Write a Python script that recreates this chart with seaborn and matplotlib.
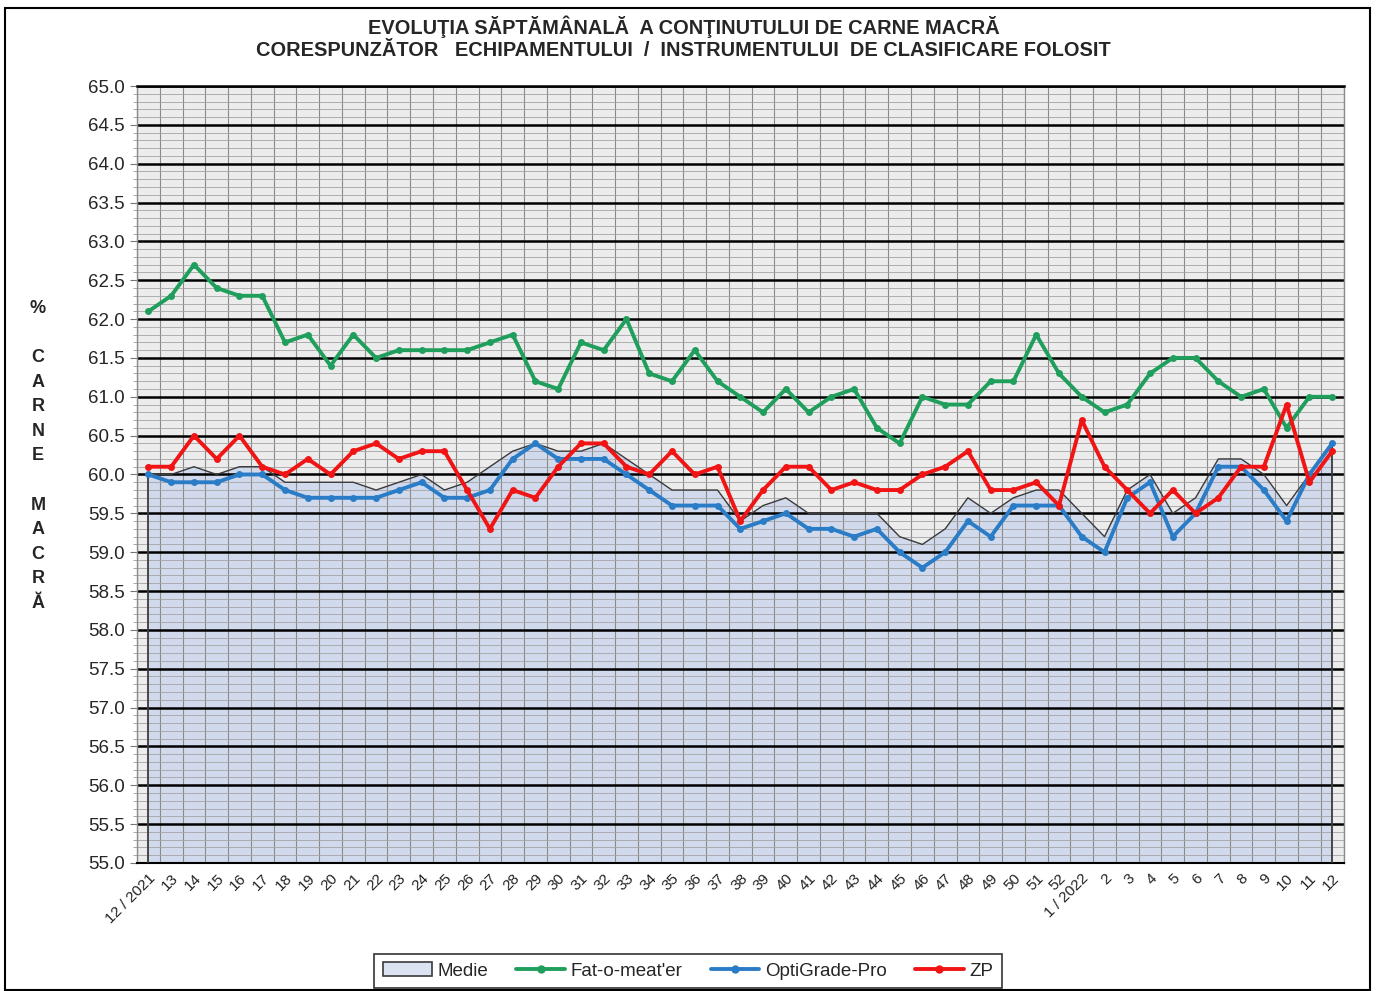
import numpy as np
import pandas as pd
import seaborn as sns
import matplotlib.pyplot as plt
from matplotlib.lines import Line2D
from matplotlib.patches import Patch, Rectangle

# saptamanile: 12/2021 ... 52, apoi 1/2022 ... 12
weeks = ["12 / 2021"] + [str(w) for w in range(13, 53)] + ["1 / 2022"] + [str(w) for w in range(2, 13)]

medie = [60.0, 60.0, 60.1, 60.0, 60.1, 60.1, 59.9, 59.9, 59.9, 59.9, 59.8, 59.9, 60.0, 59.8,
         59.9, 60.1, 60.3, 60.4, 60.3, 60.3, 60.4, 60.2, 60.0, 59.8, 59.8, 59.8, 59.4, 59.6,
         59.7, 59.5, 59.5, 59.5, 59.5, 59.2, 59.1, 59.3, 59.7, 59.5, 59.7, 59.8, 59.8,
         59.5, 59.2, 59.8, 60.0, 59.5, 59.7, 60.2, 60.2, 60.0, 59.6, 60.0, 60.4]

fat_o_meater = [62.1, 62.3, 62.7, 62.4, 62.3, 62.3, 61.7, 61.8, 61.4, 61.8, 61.5, 61.6, 61.6, 61.6,
                61.6, 61.7, 61.8, 61.2, 61.1, 61.7, 61.6, 62.0, 61.3, 61.2, 61.6, 61.2, 61.0, 60.8,
                61.1, 60.8, 61.0, 61.1, 60.6, 60.4, 61.0, 60.9, 60.9, 61.2, 61.2, 61.8, 61.3,
                61.0, 60.8, 60.9, 61.3, 61.5, 61.5, 61.2, 61.0, 61.1, 60.6, 61.0, 61.0]

optigrade_pro = [60.0, 59.9, 59.9, 59.9, 60.0, 60.0, 59.8, 59.7, 59.7, 59.7, 59.7, 59.8, 59.9, 59.7,
                 59.7, 59.8, 60.2, 60.4, 60.2, 60.2, 60.2, 60.0, 59.8, 59.6, 59.6, 59.6, 59.3, 59.4,
                 59.5, 59.3, 59.3, 59.2, 59.3, 59.0, 58.8, 59.0, 59.4, 59.2, 59.6, 59.6, 59.6,
                 59.2, 59.0, 59.7, 59.9, 59.2, 59.5, 60.1, 60.1, 59.8, 59.4, 60.0, 60.4]

zp = [60.1, 60.1, 60.5, 60.2, 60.5, 60.1, 60.0, 60.2, 60.0, 60.3, 60.4, 60.2, 60.3, 60.3,
      59.8, 59.3, 59.8, 59.7, 60.1, 60.4, 60.4, 60.1, 60.0, 60.3, 60.0, 60.1, 59.4, 59.8,
      60.1, 60.1, 59.8, 59.9, 59.8, 59.8, 60.0, 60.1, 60.3, 59.8, 59.8, 59.9, 59.6,
      60.7, 60.1, 59.8, 59.5, 59.8, 59.5, 59.7, 60.1, 60.1, 60.9, 59.9, 60.3]

series_names = ["Fat-o-meat'er", "OptiGrade-Pro", "ZP"]

GREEN = "#1f9e5c"
BLUE = "#2a7cc6"
RED = "#f01414"
FILL = "#d1daed"
EDGE = "#3a3a3a"


def main():
    sns.set_style("white")
    plt.rcParams["font.family"] = ["Liberation Sans", "DejaVu Sans"]

    x = np.arange(len(weeks))
    df = pd.DataFrame({"x": x, series_names[0]: fat_o_meater,
                       series_names[1]: optigrade_pro, series_names[2]: zp})
    long = df.melt(id_vars="x", var_name="aparat", value_name="carne")

    fig = plt.figure(figsize=(13.76, 9.91), dpi=100)
    ax = fig.add_axes([0.0996, 0.1292, 0.8768, 0.784])
    ax.set_facecolor("#ececec")
    ax.set_axisbelow(True)

    # Medie ca arie umpluta, sub liniile de grila
    ax.fill_between(x, medie, 55, facecolor=FILL, edgecolor="none", zorder=0.2)
    ax.plot(x, medie, color=EDGE, lw=1.0, zorder=3)
    ax.vlines([x[0], x[-1]], 55, [medie[0], medie[-1]], color=EDGE, lw=1.3, zorder=3)

    sns.lineplot(data=long, x="x", y="carne", hue="aparat", hue_order=series_names,
                 palette=[GREEN, BLUE, RED], marker="o", markersize=5, markeredgewidth=0,
                 linewidth=2.8, legend=False, ax=ax, zorder=4)

    ax.set_xlim(-0.5, len(weeks) - 0.5)
    ax.set_ylim(55, 65)
    ax.set_xlabel("")
    ax.set_ylabel("")

    ax.set_yticks(np.arange(55, 65.01, 0.5))
    ax.set_yticks(np.arange(55, 65.01, 0.1), minor=True)
    ax.set_yticklabels([f"{v:.1f}" for v in np.arange(55, 65.01, 0.5)], fontsize=13.5)
    ax.set_xticks(x)
    ax.set_xticks(np.arange(-0.5, len(weeks), 1), minor=True)
    ax.set_xticklabels(weeks, rotation=45, ha="right", rotation_mode="anchor", fontsize=11)

    ax.grid(which="major", axis="y", color="black", lw=1.8)
    ax.grid(which="minor", axis="y", color="#a4a4a4", lw=0.6)
    ax.grid(which="minor", axis="x", color="#8a8a8a", lw=0.8)
    ax.grid(which="major", axis="x", visible=False)

    ax.tick_params(axis="x", which="major", length=0, pad=6, colors="#222222")
    ax.tick_params(axis="x", which="minor", length=5, color="#777777")
    ax.tick_params(axis="y", which="major", length=5, color="#777777", left=True, pad=4)
    ax.tick_params(axis="y", which="minor", length=3, color="#999999", left=True)

    for side in ["left", "right"]:
        ax.spines[side].set_color("#8a8a8a")
        ax.spines[side].set_linewidth(1.0)
    ax.spines["bottom"].set_color("black")
    ax.spines["bottom"].set_linewidth(1.5)
    ax.spines["top"].set_color("black")
    ax.spines["top"].set_linewidth(1.8)

    fig.text(0.497, 1 - 27 / 991, "EVOLUŢIA SĂPTĂMÂNALĂ  A CONŢINUTULUI DE CARNE MACRĂ",
             ha="center", va="center", fontsize=14.4, fontweight="bold")
    fig.text(0.497, 1 - 50 / 991, "CORESPUNZĂTOR   ECHIPAMENTULUI  /  INSTRUMENTULUI  DE CLASIFICARE FOLOSIT",
             ha="center", va="center", fontsize=14.4, fontweight="bold")

    fig.text(38 / 1376, 1 - 456 / 991, "%\n\nC\nA\nR\nN\nE\n\nM\nA\nC\nR\nĂ",
             ha="center", va="center", fontsize=13, fontweight="bold", linespacing=1.58)

    handles = [Patch(facecolor="#dbe3f3", edgecolor=EDGE, lw=1.2),
               Line2D([], [], color=GREEN, lw=2.8, marker="o", markersize=5),
               Line2D([], [], color=BLUE, lw=2.8, marker="o", markersize=5),
               Line2D([], [], color=RED, lw=2.8, marker="o", markersize=5)]
    leg = fig.legend(handles, ["Medie"] + series_names, loc="lower center",
                     bbox_to_anchor=(0.5, 0.003), ncol=4, frameon=True, fancybox=False,
                     edgecolor="black", fontsize=13.5, handlelength=2.6, columnspacing=1.5,
                     handletextpad=0.3, borderpad=0.45, borderaxespad=0)
    leg.get_frame().set_linewidth(1.2)

    fig.patches.append(Rectangle((5 / 1376, 0.001), 1 - 11 / 1376, 1 - 9 / 991,
                                 transform=fig.transFigure, fill=False,
                                 edgecolor="black", lw=1.5))

    fig.savefig("out.png", dpi=100)


if __name__ == "__main__":
    main()
